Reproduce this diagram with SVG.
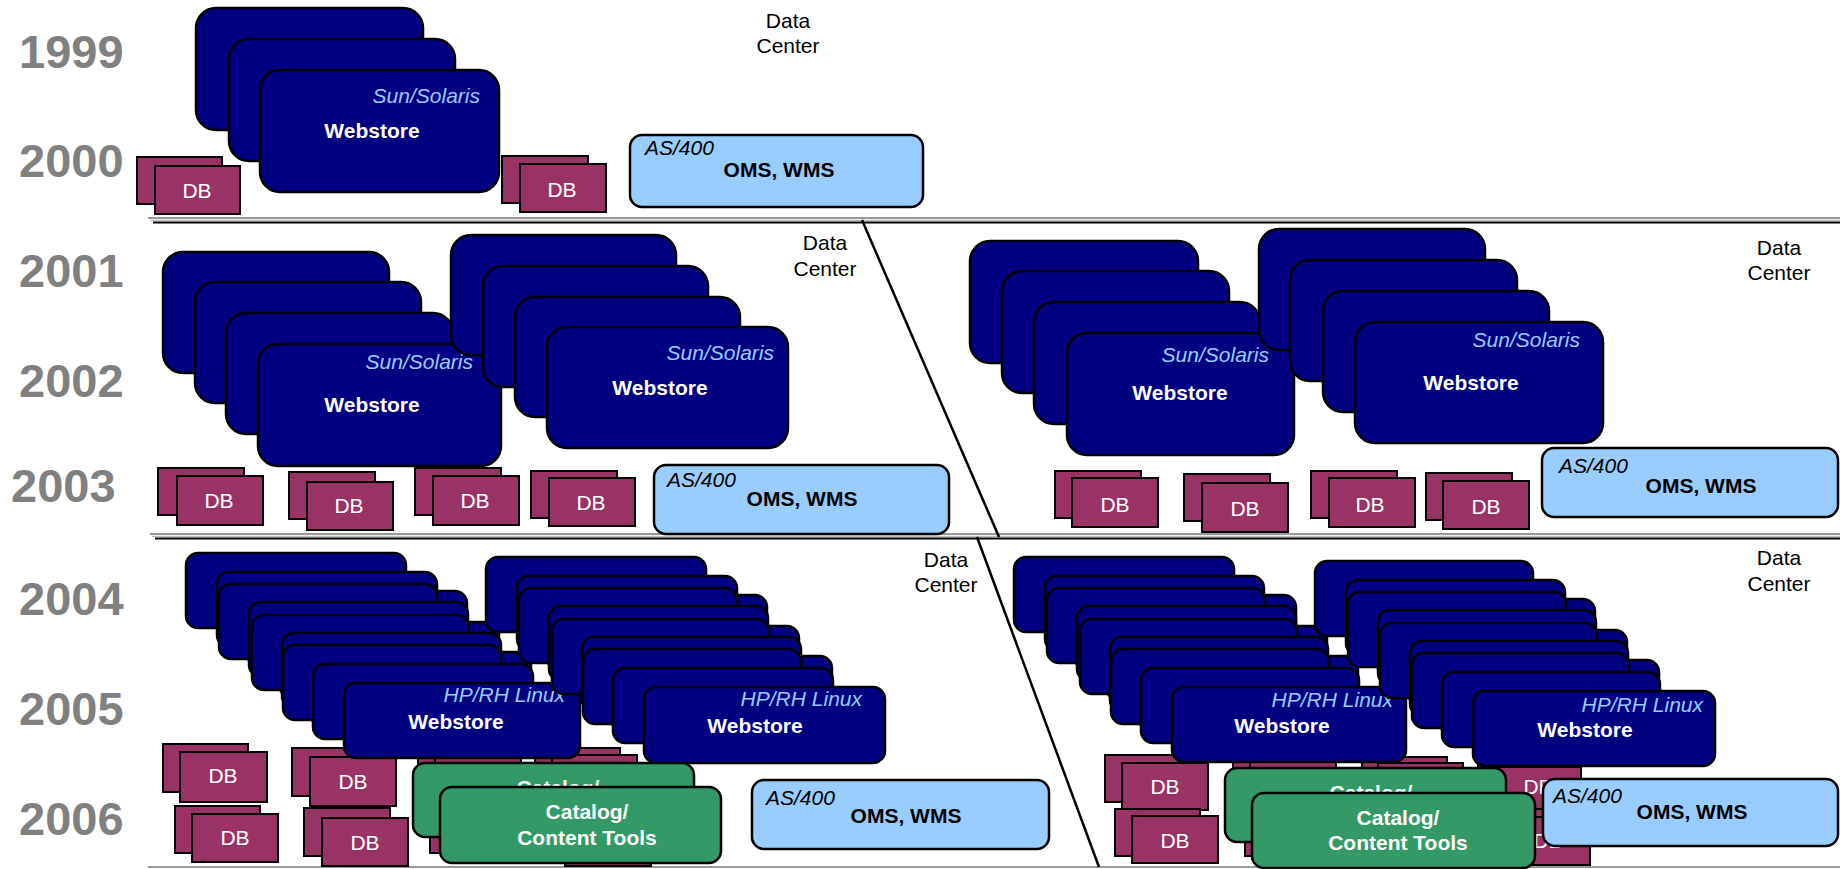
<svg xmlns="http://www.w3.org/2000/svg" width="1848" height="869" viewBox="0 0 1848 869">
<style>
.ws{fill:#000080;stroke:#000;stroke-width:2.5}
.db{fill:#993366;stroke:#000;stroke-width:2}
.as{fill:#99CCFF;stroke:#000;stroke-width:2.5}
.cat{fill:#339966;stroke:#000;stroke-width:2.5}
text{font-family:"Liberation Sans",Arial,sans-serif}
.yr{font-size:47px;font-weight:bold;fill:#808080}
.os{font-size:21px;font-style:italic;fill:#99CCFF;text-anchor:end}
.wt{font-size:21px;font-weight:bold;fill:#fff;text-anchor:middle}
.dbt{font-size:21px;fill:#fff;text-anchor:middle}
.dc{font-size:21px;fill:#000;text-anchor:middle}
.ast{font-size:21px;font-style:italic;fill:#000}
.oms{font-size:21px;font-weight:bold;fill:#000;text-anchor:middle}
.g1{stroke:#999;stroke-width:2}
.g2{stroke:#aaa;stroke-width:1}
.bk{stroke:#000;stroke-width:1.8}
.dg{stroke:#000;stroke-width:2.5}
</style>
<rect width="1848" height="869" fill="#fff"/>

<g id="connectors">
  <line class="g1" x1="148" y1="218" x2="1840" y2="218"/>
  <line class="g2" x1="150" y1="220.3" x2="1840" y2="220.3"/>
  <line class="bk" x1="153" y1="222.5" x2="1840" y2="222.5"/>
  <line class="g1" x1="150" y1="534" x2="1840" y2="534"/>
  <line class="g2" x1="152" y1="536.3" x2="1840" y2="536.3"/>
  <line class="bk" x1="155" y1="538.5" x2="1840" y2="538.5"/>
  <line class="g1" x1="148" y1="867" x2="1840" y2="867"/>
  <line class="dg" x1="862" y1="220" x2="999" y2="537"/>
  <line class="dg" x1="977" y1="537" x2="1099" y2="867"/>
</g>

<g id="year-labels">
  <text class="yr" x="19" y="68">1999</text>
  <text class="yr" x="19" y="177">2000</text>
  <text class="yr" x="19" y="287">2001</text>
  <text class="yr" x="19" y="397">2002</text>
  <text class="yr" x="11" y="502">2003</text>
  <text class="yr" x="19" y="615">2004</text>
  <text class="yr" x="19" y="725">2005</text>
  <text class="yr" x="19" y="835">2006</text>
</g>

<g id="datacenter-labels">
  <text class="dc" x="788" y="28">Data</text>
  <text class="dc" x="788" y="53">Center</text>
  <text class="dc" x="825" y="250">Data</text>
  <text class="dc" x="825" y="276">Center</text>
  <text class="dc" x="1779" y="255">Data</text>
  <text class="dc" x="1779" y="280">Center</text>
  <text class="dc" x="946" y="567">Data</text>
  <text class="dc" x="946" y="592">Center</text>
  <text class="dc" x="1779" y="565">Data</text>
  <text class="dc" x="1779" y="591">Center</text>
</g>

<!-- ===== 1999-2000 ===== -->
<g id="s1-db-left">
  <rect class="db" x="137" y="157" width="85" height="47"/>
  <rect class="db" x="155" y="166" width="85" height="48"/>
  <text class="dbt" x="197" y="198">DB</text>
</g>
<g id="s1-webstore">
  <rect class="ws" x="196" y="8" width="227" height="122" rx="20"/>
  <rect class="ws" x="229" y="39" width="226" height="122" rx="20"/>
  <rect class="ws" x="260" y="70" width="239" height="122" rx="20"/>
  <text class="os" x="480" y="103">Sun/Solaris</text>
  <text class="wt" x="372" y="138">Webstore</text>
</g>
<g id="s1-db-right">
  <rect class="db" x="502" y="156" width="86" height="47"/>
  <rect class="db" x="520" y="164" width="86" height="48"/>
  <text class="dbt" x="562" y="197">DB</text>
</g>
<g id="s1-as400">
  <rect class="as" x="630" y="135" width="293" height="72" rx="12"/>
  <text class="ast" x="645" y="155">AS/400</text>
  <text class="oms" x="779" y="177">OMS, WMS</text>
</g>

<!-- ===== 2001-2003 left ===== -->
<g id="s2l-webstore-1">
  <rect class="ws" x="163" y="252" width="226" height="121" rx="20"/>
  <rect class="ws" x="195" y="282" width="226" height="121" rx="20"/>
  <rect class="ws" x="226" y="313" width="227" height="121" rx="20"/>
  <rect class="ws" x="258" y="344" width="243" height="122" rx="20"/>
  <text class="os" x="473" y="369">Sun/Solaris</text>
  <text class="wt" x="372" y="412">Webstore</text>
</g>
<g id="s2l-webstore-2">
  <rect class="ws" x="451" y="235" width="225" height="120" rx="20"/>
  <rect class="ws" x="483" y="266" width="225" height="121" rx="20"/>
  <rect class="ws" x="515" y="297" width="225" height="120" rx="20"/>
  <rect class="ws" x="547" y="327" width="241" height="121" rx="20"/>
  <text class="os" x="774" y="360">Sun/Solaris</text>
  <text class="wt" x="660" y="395">Webstore</text>
</g>
<g id="s2l-db-1">
  <rect class="db" x="158" y="468" width="86" height="47"/>
  <rect class="db" x="177" y="476" width="86" height="49"/>
  <text class="dbt" x="219" y="508">DB</text>
</g>
<g id="s2l-db-2">
  <rect class="db" x="289" y="472" width="86" height="47"/>
  <rect class="db" x="307" y="482" width="86" height="48"/>
  <text class="dbt" x="349" y="513">DB</text>
</g>
<g id="s2l-db-3">
  <rect class="db" x="415" y="468" width="86" height="47"/>
  <rect class="db" x="433" y="476" width="86" height="49"/>
  <text class="dbt" x="475" y="508">DB</text>
</g>
<g id="s2l-db-4">
  <rect class="db" x="531" y="471" width="86" height="47"/>
  <rect class="db" x="549" y="478" width="86" height="48"/>
  <text class="dbt" x="591" y="510">DB</text>
</g>
<g id="s2l-as400">
  <rect class="as" x="654" y="465" width="295" height="69" rx="12"/>
  <text class="ast" x="667" y="487">AS/400</text>
  <text class="oms" x="802" y="506">OMS, WMS</text>
</g>

<!-- ===== 2001-2003 right ===== -->
<g id="s2r-webstore-1">
  <rect class="ws" x="970" y="241" width="228" height="122" rx="20"/>
  <rect class="ws" x="1002" y="271" width="227" height="122" rx="20"/>
  <rect class="ws" x="1034" y="302" width="226" height="122" rx="20"/>
  <rect class="ws" x="1067" y="333" width="227" height="122" rx="20"/>
  <text class="os" x="1269" y="362">Sun/Solaris</text>
  <text class="wt" x="1180" y="400">Webstore</text>
</g>
<g id="s2r-webstore-2">
  <rect class="ws" x="1259" y="229" width="226" height="121" rx="20"/>
  <rect class="ws" x="1290" y="260" width="227" height="121" rx="20"/>
  <rect class="ws" x="1323" y="291" width="226" height="121" rx="20"/>
  <rect class="ws" x="1355" y="322" width="248" height="121" rx="20"/>
  <text class="os" x="1580" y="347">Sun/Solaris</text>
  <text class="wt" x="1471" y="390">Webstore</text>
</g>
<g id="s2r-db-1">
  <rect class="db" x="1055" y="471" width="86" height="47"/>
  <rect class="db" x="1072" y="478" width="86" height="49"/>
  <text class="dbt" x="1115" y="512">DB</text>
</g>
<g id="s2r-db-2">
  <rect class="db" x="1184" y="474" width="86" height="47"/>
  <rect class="db" x="1202" y="483" width="86" height="49"/>
  <text class="dbt" x="1245" y="516">DB</text>
</g>
<g id="s2r-db-3">
  <rect class="db" x="1311" y="471" width="86" height="47"/>
  <rect class="db" x="1329" y="478" width="86" height="49"/>
  <text class="dbt" x="1370" y="512">DB</text>
</g>
<g id="s2r-db-4">
  <rect class="db" x="1426" y="473" width="86" height="47"/>
  <rect class="db" x="1443" y="481" width="86" height="48"/>
  <text class="dbt" x="1486" y="514">DB</text>
</g>
<g id="s2r-as400">
  <rect class="as" x="1542" y="448" width="296" height="69" rx="12"/>
  <text class="ast" x="1559" y="473">AS/400</text>
  <text class="oms" x="1701" y="493">OMS, WMS</text>
</g>

<!-- ===== 2004-2006 left ===== -->
<g id="s3l-db">
  <rect class="db" x="163" y="744" width="85" height="48"/>
  <rect class="db" x="180" y="752" width="87" height="50"/>
  <text class="dbt" x="223" y="783">DB</text>
  <rect class="db" x="292" y="748" width="85" height="48"/>
  <rect class="db" x="310" y="757" width="86" height="49"/>
  <text class="dbt" x="353" y="789">DB</text>
  <rect class="db" x="418" y="747" width="85" height="48"/>
  <rect class="db" x="435" y="755" width="86" height="48"/>
  <rect class="db" x="535" y="748" width="85" height="48"/>
  <rect class="db" x="552" y="755" width="85" height="48"/>
  <rect class="db" x="175" y="806" width="85" height="47"/>
  <rect class="db" x="192" y="814" width="86" height="48"/>
  <text class="dbt" x="235" y="845">DB</text>
  <rect class="db" x="304" y="808" width="86" height="48"/>
  <rect class="db" x="322" y="818" width="86" height="48"/>
  <text class="dbt" x="365" y="850">DB</text>
  <rect class="db" x="430" y="806" width="85" height="47"/>
  <rect class="db" x="447" y="814" width="86" height="48"/>
  <rect class="db" x="547" y="808" width="86" height="48"/>
  <rect class="db" x="565" y="818" width="86" height="48"/>
</g>
<g id="s3l-webstore-1">
  <rect class="ws" x="247" y="591" width="220" height="75" rx="12"/>
  <rect class="ws" x="279" y="622" width="220" height="75" rx="12"/>
  <rect class="ws" x="311" y="652" width="220" height="75" rx="12"/>
  <rect class="ws" x="186" y="553" width="220" height="75" rx="12"/>
  <rect class="ws" x="217" y="572" width="220" height="75" rx="12"/>
  <rect class="ws" x="219" y="584" width="218" height="75" rx="12"/>
  <rect class="ws" x="249" y="602" width="219" height="75" rx="12"/>
  <rect class="ws" x="252" y="615" width="217" height="75" rx="12"/>
  <rect class="ws" x="282" y="633" width="219" height="75" rx="12"/>
  <rect class="ws" x="283" y="645" width="218" height="75" rx="12"/>
  <rect class="ws" x="313" y="664" width="220" height="75" rx="12"/>
  <rect class="ws" x="344" y="683" width="236" height="75" rx="12"/>
  <text class="os" x="565" y="702">HP/RH Linux</text>
  <text class="wt" x="456" y="729">Webstore</text>
</g>
<g id="s3l-webstore-2">
  <rect class="ws" x="547" y="595" width="220" height="75" rx="12"/>
  <rect class="ws" x="579" y="626" width="220" height="75" rx="12"/>
  <rect class="ws" x="611" y="656" width="221" height="75" rx="12"/>
  <rect class="ws" x="486" y="557" width="220" height="75" rx="12"/>
  <rect class="ws" x="517" y="576" width="220" height="75" rx="12"/>
  <rect class="ws" x="519" y="588" width="218" height="75" rx="12"/>
  <rect class="ws" x="549" y="606" width="219" height="75" rx="12"/>
  <rect class="ws" x="552" y="619" width="217" height="75" rx="12"/>
  <rect class="ws" x="582" y="637" width="219" height="75" rx="12"/>
  <rect class="ws" x="583" y="649" width="218" height="75" rx="12"/>
  <rect class="ws" x="613" y="668" width="220" height="75" rx="12"/>
  <rect class="ws" x="644" y="687" width="241" height="76" rx="12"/>
  <text class="os" x="862" y="706">HP/RH Linux</text>
  <text class="wt" x="755" y="733">Webstore</text>
</g>
<g id="s3l-catalog">
  <rect class="cat" x="413" y="763" width="281" height="74" rx="12"/>
  <text class="wt" x="558" y="795">Catalog/</text>
  <rect class="cat" x="440" y="787" width="281" height="76" rx="12"/>
  <text class="wt" x="587" y="819">Catalog/</text>
  <text class="wt" x="587" y="845">Content Tools</text>
</g>
<g id="s3l-as400">
  <rect class="as" x="752" y="780" width="297" height="69" rx="12"/>
  <text class="ast" x="766" y="805">AS/400</text>
  <text class="oms" x="906" y="823">OMS, WMS</text>
</g>

<!-- ===== 2004-2006 right ===== -->
<g id="s3r-db">
  <rect class="db" x="1105" y="755" width="85" height="47"/>
  <rect class="db" x="1122" y="763" width="86" height="47"/>
  <text class="dbt" x="1165" y="794">DB</text>
  <rect class="db" x="1233" y="755" width="85" height="47"/>
  <rect class="db" x="1250" y="762" width="86" height="47"/>
  <rect class="db" x="1362" y="757" width="85" height="47"/>
  <rect class="db" x="1378" y="763" width="85" height="47"/>
  <rect class="db" x="1478" y="759" width="85" height="47"/>
  <rect class="db" x="1496" y="767" width="85" height="48"/>
  <text class="dbt" x="1538" y="794">DB</text>
  <rect class="db" x="1115" y="809" width="85" height="47"/>
  <rect class="db" x="1132" y="816" width="86" height="47"/>
  <text class="dbt" x="1175" y="848">DB</text>
  <rect class="db" x="1245" y="809" width="85" height="47"/>
  <rect class="db" x="1262" y="816" width="86" height="47"/>
  <rect class="db" x="1375" y="809" width="85" height="47"/>
  <rect class="db" x="1392" y="816" width="86" height="47"/>
  <rect class="db" x="1488" y="809" width="85" height="48"/>
  <rect class="db" x="1505" y="817" width="85" height="48"/>
  <text class="dbt" x="1548" y="848">DB</text>
</g>
<g id="s3r-webstore-1">
  <rect class="ws" x="1075" y="595" width="221" height="75" rx="12"/>
  <rect class="ws" x="1107" y="626" width="220" height="75" rx="12"/>
  <rect class="ws" x="1139" y="656" width="219" height="75" rx="12"/>
  <rect class="ws" x="1014" y="557" width="220" height="75" rx="12"/>
  <rect class="ws" x="1045" y="576" width="219" height="75" rx="12"/>
  <rect class="ws" x="1047" y="588" width="218" height="75" rx="12"/>
  <rect class="ws" x="1077" y="606" width="219" height="75" rx="12"/>
  <rect class="ws" x="1080" y="619" width="217" height="75" rx="12"/>
  <rect class="ws" x="1110" y="637" width="218" height="75" rx="12"/>
  <rect class="ws" x="1111" y="649" width="218" height="75" rx="12"/>
  <rect class="ws" x="1141" y="668" width="218" height="75" rx="12"/>
  <rect class="ws" x="1172" y="687" width="234" height="75" rx="12"/>
  <text class="os" x="1393" y="707">HP/RH Linux</text>
  <text class="wt" x="1282" y="733">Webstore</text>
</g>
<g id="s3r-webstore-2">
  <rect class="ws" x="1376" y="599" width="219" height="75" rx="12"/>
  <rect class="ws" x="1408" y="630" width="219" height="75" rx="12"/>
  <rect class="ws" x="1440" y="660" width="219" height="75" rx="12"/>
  <rect class="ws" x="1315" y="561" width="218" height="75" rx="12"/>
  <rect class="ws" x="1346" y="580" width="219" height="75" rx="12"/>
  <rect class="ws" x="1348" y="592" width="218" height="75" rx="12"/>
  <rect class="ws" x="1378" y="610" width="218" height="75" rx="12"/>
  <rect class="ws" x="1380" y="623" width="217" height="75" rx="12"/>
  <rect class="ws" x="1410" y="641" width="218" height="75" rx="12"/>
  <rect class="ws" x="1412" y="653" width="217" height="75" rx="12"/>
  <rect class="ws" x="1442" y="672" width="218" height="75" rx="12"/>
  <rect class="ws" x="1473" y="691" width="242" height="75" rx="12"/>
  <text class="os" x="1703" y="712">HP/RH Linux</text>
  <text class="wt" x="1585" y="737">Webstore</text>
</g>
<g id="s3r-catalog">
  <rect class="cat" x="1225" y="768" width="281" height="74" rx="12"/>
  <text class="wt" x="1371" y="800">Catalog/</text>
  <rect class="cat" x="1252" y="793" width="283" height="75" rx="12"/>
  <text class="wt" x="1398" y="825">Catalog/</text>
  <text class="wt" x="1398" y="850">Content Tools</text>
</g>
<g id="s3r-as400">
  <rect class="as" x="1543" y="779" width="295" height="67" rx="12"/>
  <text class="ast" x="1553" y="803">AS/400</text>
  <text class="oms" x="1692" y="819">OMS, WMS</text>
</g>
</svg>
